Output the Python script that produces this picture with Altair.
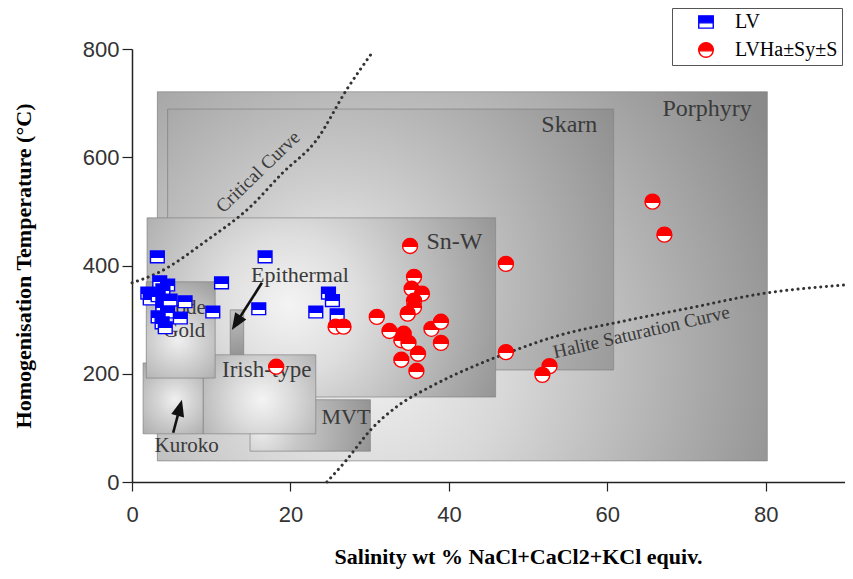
import math
import altair as alt
import pandas as pd

# ---------------- data ----------------
lv_salinity = [3.2, 16.8, 11.3, 10.2, 16.0, 24.8, 25.3, 23.2, 25.9,
               3.5, 4.5, 3.9, 2.0, 2.3, 3.3, 3.9, 6.7, 3.9, 4.5, 3.3, 6.1, 3.8, 4.2, 4.8]
lv_temp = [416, 416, 368, 314, 320, 349, 335, 314, 309,
           370, 364, 355, 349, 338, 344, 331, 333, 322, 314, 305, 303, 294, 285, 336]

lvh_salinity = [35.1, 35.6, 35.3, 36.6, 35.6, 35.6, 34.8, 30.9, 25.7, 26.7, 32.5, 34.3,
                34.0, 34.9, 37.8, 39.0, 39.0, 36.1, 34.0, 35.9, 18.2, 47.2, 47.2, 52.7,
                51.8, 65.7, 67.2]
lvh_temp = [436, 379, 357, 348, 335, 323, 311, 305, 287, 287, 279, 274,
            262, 257, 283, 296, 257, 237, 226, 205, 213, 403, 240, 214,
            198, 518, 457]

series_names = ["LV", "LVHa±Sy±S"]

box_names = ["Porphyry", "Skarn", "Sn-W", "MVT", "Epithermal", "Kuroko", "Irish-type", "Lode Gold"]
box_sal0 = [3.2, 4.5, 1.9, 14.9, 12.4, 1.4, 9.0, 1.8]
box_sal1 = [80.2, 60.8, 45.9, 30.1, 14.1, 9.0, 23.2, 10.5]
box_t0 = [39, 207, 157, 57, 225, 89, 89, 192]
box_t1 = [721, 689, 488, 152, 318, 220, 235, 370]
# light spot of each deposit field (salinity, temperature)
box_light_sal = [30.0, 25.0, 19.9, 16.4, 12.6, 5.4, 16.4, 5.8]
box_light_t = [225, 355, 327, 96, 314, 152, 152, 262]

crit_sal = [0, 3.2, 9.5, 14.9, 19.0, 23.3, 27.1, 30.3]
crit_temp = [368, 386, 447, 508, 571, 632, 725, 793]
halite_sal = [24.6, 27.1, 30.1, 33.5, 37.8, 43.0, 47.7, 53.7, 62.3, 70.9, 79.5, 90.0]
halite_temp = [0, 41, 96, 140, 177, 213, 240, 270, 298, 323, 348, 364]

label_text = ["Porphyry", "Skarn", "Sn-W", "Epithermal", "Lode\nGold", "Irish-type",
              "MVT", "Kuroko", "Critical Curve", "Halite Saturation Curve"]
label_sal = [72.6, 55.2, 40.7, 21.2, 6.6, 17.0, 27.0, 6.9, 15.9, 64.3]
label_temp = [690, 660, 444, 383, 322, 207, 120, 67, 573, 277]

arrow_start_sal = [16.4, 5.2]
arrow_start_temp = [368, 91]
arrow_tip_sal = [12.6, 6.3]
arrow_tip_temp = [281, 152]

x_ticks = [0, 20, 40, 60, 80]
y_ticks = [0, 200, 400, 600, 800]
x_title = "Salinity wt % NaCl+CaCl2+KCl equiv."
y_title = "Homogenisation Temperature (°C)"

# ---------------- styles ----------------
W, H = 713, 433
XMAX, YMAX = 90, 800
PX = W / XMAX
PY = H / YMAX
BLUE = "#0000ff"
RED = "#ff0000"
SERIF = "Liberation Serif"
SANS = "Liberation Sans"

box_radius_px = [460, 340, 230, 120, 50, 60, 95, 70]
box_colors = [
    ("#f0f0f0", "#d8d8d8", "#8a8a8a"),
    ("#f0f0f0", "#cfcfcf", "#8e8e8e"),
    ("#f4f4f4", "#dedede", "#939393"),
    ("#ececec", "#c8c8c8", "#8e8e8e"),
    ("#c4c4c4", "#b0b0b0", "#8e8e8e"),
    ("#f0f0f0", "#d4d4d4", "#999999"),
    ("#f4f4f4", "#dcdcdc", "#999999"),
    ("#f0f0f0", "#d6d6d6", "#9a9a9a"),
]
label_size = [24, 24, 24, 22, 21, 23, 22, 21, 19, 19]
label_angle = [0, 0, 0, 0, 0, 0, 0, 0, 316, 347]

XS = alt.Scale(domain=[0, XMAX], nice=False, zero=False)
YS = alt.Scale(domain=[0, YMAX], nice=False, zero=False)

XAXIS = alt.Axis(values=x_ticks, grid=False, title=x_title, tickSize=9, tickWidth=1.2,
                 tickColor="#222222", domainColor="#222222", domainWidth=1.5,
                 labelFont=SANS, labelFontSize=22, labelColor="#333333", labelPadding=13,
                 labelFlush=False, titleFont=SERIF, titleFontSize=22, titleFontWeight="bold",
                 titleColor="#000000", titlePadding=21, titleX=386)
YAXIS = alt.Axis(values=y_ticks, grid=False, title=y_title, tickSize=10, tickWidth=1.2,
                 tickColor="#222222", domainColor="#222222", domainWidth=1.5,
                 labelFont=SANS, labelFontSize=22, labelColor="#333333", labelPadding=3,
                 labelFlush=False, titleFont=SERIF, titleFontSize=22, titleFontWeight="bold",
                 titleColor="#000000", titlePadding=47)


def X(f):
    return alt.X(f"{f}:Q", scale=XS, axis=XAXIS)


def Y(f):
    return alt.Y(f"{f}:Q", scale=YS, axis=YAXIS)


layers = []

# deposit fields (radial grey gradients)
for i, name in enumerate(box_names):
    df = pd.DataFrame({"a": [box_sal0[i]], "b": [box_sal1[i]],
                       "c": [box_t0[i]], "d": [box_t1[i]], "name": [name]})
    w = (box_sal1[i] - box_sal0[i]) * PX
    h = (box_t1[i] - box_t0[i]) * PY
    s = max(w, h)
    lx = (box_light_sal[i] - box_sal0[i]) * PX
    ly = (box_t1[i] - box_light_t[i]) * PY
    cx = (lx + (s - w) / 2) / s
    cy = (ly + (s - h) / 2) / s
    r = box_radius_px[i] / s
    c0, c1, c2 = box_colors[i]
    grad = alt.RadialGradient(
        gradient="radial", x1=cx, y1=cy, r1=0, x2=cx, y2=cy, r2=r,
        stops=[alt.GradientStop(offset=0, color=c0),
               alt.GradientStop(offset=0.3, color=c1),
               alt.GradientStop(offset=1, color=c2)])
    layers.append(
        alt.Chart(df).mark_rect(fill=grad, stroke="#7c7c7c", strokeWidth=0.8, strokeOpacity=0.8)
        .encode(x=X("a"), x2="b", y=Y("c"), y2="d")
    )

# labels
for i, t in enumerate(label_text):
    df = pd.DataFrame({"sal": [label_sal[i]], "temp": [label_temp[i]]})
    kw = dict(text=t, font=SERIF, fontSize=label_size[i], color="#3a3a3a",
              align="center", baseline="middle")
    if label_angle[i]:
        kw["angle"] = label_angle[i]
    if "\n" in t:
        kw["lineBreak"] = "\n"
        kw["lineHeight"] = 23
    layers.append(alt.Chart(df).mark_text(**kw).encode(x=X("sal"), y=Y("temp")))

# arrows
for i in range(len(arrow_start_sal)):
    sx, sy = arrow_start_sal[i], arrow_start_temp[i]
    tx, ty = arrow_tip_sal[i], arrow_tip_temp[i]
    nx = sx + 0.8 * (tx - sx)
    ny = sy + 0.8 * (ty - sy)
    dfl = pd.DataFrame({"a": [sx], "b": [nx], "c": [sy], "d": [ny]})
    layers.append(alt.Chart(dfl).mark_rule(color="#111111", strokeWidth=2.6)
                  .encode(x=X("a"), x2="b", y=Y("c"), y2="d"))
    dxp = (tx - sx) * PX
    dyp = -(ty - sy) * PY
    ang = math.degrees(math.atan2(dxp, -dyp)) % 360
    dfh = pd.DataFrame({"sal": [tx], "temp": [ty]})
    layers.append(alt.Chart(dfh).mark_point(shape="M0,0 L0.4,1 L-0.4,1 Z", size=1100,
                                            filled=True, fill="#111111", opacity=1,
                                            angle=ang)
                  .encode(x=X("sal"), y=Y("temp")))

# curves
DOT = dict(color="#333333", strokeWidth=3, strokeDash=[0.1, 5.6], strokeCap="round",
           interpolate="monotone")
crit_df = pd.DataFrame({"sal": crit_sal, "temp": crit_temp})
hal_df = pd.DataFrame({"sal": halite_sal, "temp": halite_temp})
layers.append(alt.Chart(crit_df).mark_line(**DOT).encode(x=X("sal"), y=Y("temp")))
layers.append(alt.Chart(hal_df).mark_line(**DOT).encode(x=X("sal"), y=Y("temp")))

# points
SQ = "M-1,-0.85 L1,-0.85 L1,0.85 L-1,0.85 Z"


def half(color):
    return alt.LinearGradient(
        gradient="linear", x1=0, y1=0, x2=0, y2=1,
        stops=[alt.GradientStop(offset=0, color=color),
               alt.GradientStop(offset=0.56, color=color),
               alt.GradientStop(offset=0.56, color="#ffffff"),
               alt.GradientStop(offset=1, color="#ffffff")])


lv_df = pd.DataFrame({"sal": lv_salinity, "temp": lv_temp})
lvh_df = pd.DataFrame({"sal": lvh_salinity, "temp": lvh_temp})
layers.append(alt.Chart(lv_df).mark_point(shape=SQ, size=190, filled=True, fill=half(BLUE),
                                          stroke=BLUE, strokeWidth=1.4, opacity=1)
              .encode(x=X("sal"), y=Y("temp")))
layers.append(alt.Chart(lvh_df).mark_point(shape="circle", size=225, filled=True, fill=half(RED),
                                           stroke=RED, strokeWidth=1.4, opacity=1)
              .encode(x=X("sal"), y=Y("temp")))

# legend (symbols only, no marks drawn)
SQ_HALF = ("M-1,-0.85 L1,-0.85 L1,0.12 L-1,0.12 Z "
           "M-1,0.12 L-1,0.85 L1,0.85 L1,0.12 L1,0.85 L-1,0.85 Z")
CI_HALF = ("M-0.993,0.12 A1,1 0 1 1 0.993,0.12 Z "
           "M-0.993,0.12 A1,1 0 0 0 0.993,0.12 A1,1 0 0 1 -0.993,0.12")
CS = alt.Scale(domain=series_names, range=[BLUE, RED])
SS = alt.Scale(domain=series_names, range=[SQ_HALF, CI_HALF])
LEG = alt.Legend(title=None, orient="none", legendX=540, legendY=-41, padding=4,
                 symbolOffset=20, labelOffset=19, rowPadding=7, strokeColor="#555555",
                 fillColor="#ffffff", labelFont=SERIF, labelFontSize=20, labelColor="#000000",
                 symbolSize=210, symbolStrokeWidth=1.4, labelLimit=400)
leg_df = pd.DataFrame({"series": series_names, "sal": [0, 0], "temp": [0, 0]})
layers.append(alt.Chart(leg_df).transform_filter("false")
              .mark_point(filled=True, size=210, strokeWidth=1.4, opacity=1)
              .encode(x=X("sal"), y=Y("temp"),
                      color=alt.Color("series:N", scale=CS, legend=LEG),
                      stroke=alt.Stroke("series:N", scale=CS, legend=LEG),
                      shape=alt.Shape("series:N", scale=SS, legend=LEG)))

chart = alt.layer(*layers).properties(
    width=W, height=H,
    padding={"left": 124, "top": 41, "right": 0, "bottom": 89},
    autosize=alt.AutoSizeParams(type="none"),
    background="white",
).configure_view(stroke=None)

chart.save("out.html", embed_options={"renderer": "svg", "actions": False})
